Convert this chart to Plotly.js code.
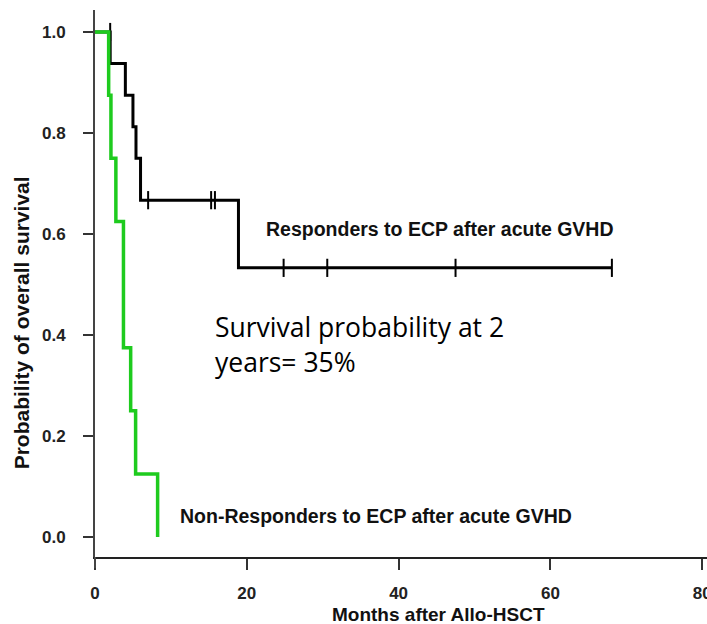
<!DOCTYPE html>
<html>
<head>
<meta charset="utf-8">
<script src="https://cdn.plot.ly/plotly-3.0.1.min.js"></script>
<style>html,body{margin:0;padding:0;background:#fff;}#chart{width:707px;height:624px;}</style>
</head>
<body>
<div id="chart"></div>
<script>
// Responders to ECP (Kaplan-Meier step points)
const respTime = [0, 2.0, 4.0, 5.0, 5.4, 6.0, 18.9, 68.1];
const respSurv = [1.0, 0.9375, 0.875, 0.8125, 0.75, 0.667, 0.533, 0.533];
// Censored observations for responders
const respCensorTime = [2.0, 7.0, 15.3, 15.8, 24.85, 30.6, 47.5, 68.1];
const respCensorSurv = [1.0, 0.667, 0.667, 0.667, 0.533, 0.533, 0.533, 0.533];
// Non-responders to ECP
const nonTime = [0, 1.8, 2.1, 2.75, 3.75, 4.7, 5.35, 8.25];
const nonSurv = [1.0, 0.875, 0.75, 0.625, 0.375, 0.25, 0.125, 0.0];
// Ticks
const xTicks = [0, 20, 40, 60, 80];
const yTicks = [0.0, 0.2, 0.4, 0.6, 0.8, 1.0];
const yTickLabels = ["0.0", "0.2", "0.4", "0.6", "0.8", "1.0"];

const SANS = "Liberation Sans, Arial, sans-serif";
const labelFont = {family: SANS, size: 19.5, color: "#111", weight: "bold"};

const traces = [
  {x: respTime, y: respSurv, type: "scatter", mode: "lines",
   line: {shape: "hv", color: "#000000", width: 3}, hoverinfo: "skip", showlegend: false},
  {x: respCensorTime, y: respCensorSurv, type: "scatter", mode: "markers",
   marker: {symbol: "line-ns", size: 13, line: {color: "#000000", width: 2}}, hoverinfo: "skip", showlegend: false},
  {x: nonTime, y: nonSurv, type: "scatter", mode: "lines",
   line: {shape: "hv", color: "#1ecb1e", width: 3.5}, hoverinfo: "skip", showlegend: false}
];

const layout = {
  width: 707, height: 624,
  margin: {l: 95, r: 0, t: 10, b: 67},
  paper_bgcolor: "#ffffff", plot_bgcolor: "#ffffff",
  showlegend: false,
  xaxis: {
    range: [0, 80.63], tickvals: xTicks, ticktext: xTicks.map(String),
    showgrid: false, zeroline: false, showline: true, linecolor: "#222", linewidth: 2,
    ticks: "outside", ticklen: 11, tickwidth: 2, tickcolor: "#333",
    tickfont: {family: SANS, size: 17, color: "#222", weight: "bold"},
    ticklabelstandoff: 9, ticklabeloverflow: "allow"
  },
  yaxis: {
    range: [-0.0396, 1.0436], tickvals: yTicks, ticktext: yTickLabels,
    showgrid: false, zeroline: false, showline: true, linecolor: "#444", linewidth: 2,
    ticks: "outside", ticklen: 10, tickwidth: 1.5, tickcolor: "#333",
    tickfont: {family: SANS, size: 17, color: "#222", weight: "bold"},
    ticklabelstandoff: 14
  },
  shapes: [
    {type: "line", xref: "paper", yref: "paper", x0: 0, x1: 0, y0: 0, y1: -0.0201,
     line: {color: "#444", width: 2}}
  ],
  annotations: [
    {text: "Responders to ECP after acute GVHD", x: 22.2, y: 0.61, xref: "x", yref: "y",
     xanchor: "left", yanchor: "middle", showarrow: false, font: labelFont},
    {text: "Non-Responders to ECP after acute GVHD", x: 11.0, y: 0.042, xref: "x", yref: "y",
     xanchor: "left", yanchor: "middle", showarrow: false, font: labelFont},
    {text: "Survival probability at 2", x: 15.5, y: 0.416, xref: "x", yref: "y",
     xanchor: "left", yanchor: "middle", showarrow: false,
     font: {family: "Open Sans, Noto Sans, sans-serif", size: 26.5, color: "#000"}},
    {text: "years= 35%", x: 15.5, y: 0.347, xref: "x", yref: "y",
     xanchor: "left", yanchor: "middle", showarrow: false,
     font: {family: "Open Sans, Noto Sans, sans-serif", size: 26.5, color: "#000"}},
    {text: "Probability of overall survival", x: -0.121, y: 0.425, xref: "paper", yref: "y",
     xanchor: "center", yanchor: "middle", textangle: -90, showarrow: false,
     font: {family: SANS, size: 21, color: "#111", weight: "bold"}},
    {text: "Months after Allo-HSCT", x: 0.562, y: -0.106, xref: "paper", yref: "paper",
     xanchor: "center", yanchor: "middle", showarrow: false,
     font: {family: SANS, size: 19, color: "#111", weight: "bold"}}
  ]
};

Plotly.newPlot("chart", traces, layout, {displayModeBar: false, staticPlot: true});
</script>
</body>
</html>
